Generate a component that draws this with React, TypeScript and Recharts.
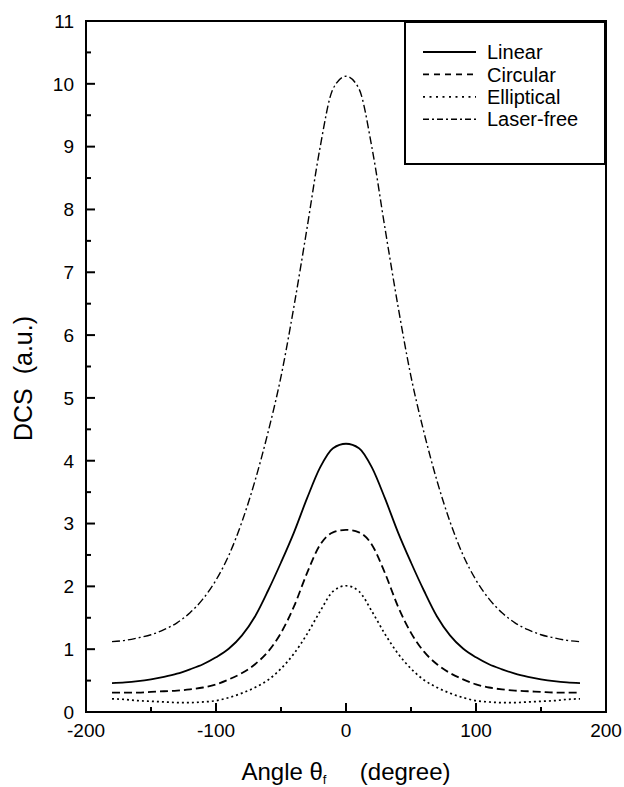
import React from 'react';
import { LineChart, Line, XAxis, YAxis, Legend, ReferenceArea, Label } from 'recharts';

// scattering angle, degrees
const angles = [
  -180, -170, -160, -150, -140, -130, -120, -110, -100, -90, -80, -70, -60, -50, -40, -30, -20, -10,
  0, 10, 20, 30, 40, 50, 60, 70, 80, 90, 100, 110, 120, 130, 140, 150, 160, 170, 180,
];

const linear = [
  0.46, 0.47, 0.49, 0.52, 0.56, 0.61, 0.68, 0.76, 0.87, 1.01, 1.22, 1.52, 1.93, 2.38, 2.86, 3.4, 3.89, 4.2,
  4.27, 4.2, 3.89, 3.4, 2.86, 2.38, 1.93, 1.52, 1.22, 1.01, 0.87, 0.76, 0.68, 0.61, 0.56, 0.52, 0.49, 0.47, 0.46,
];

const circular = [
  0.31, 0.31, 0.31, 0.32, 0.33, 0.34, 0.36, 0.39, 0.44, 0.52, 0.62, 0.76, 0.96, 1.26, 1.68, 2.21, 2.66, 2.86,
  2.9, 2.86, 2.66, 2.21, 1.68, 1.26, 0.96, 0.76, 0.62, 0.52, 0.44, 0.39, 0.36, 0.34, 0.33, 0.32, 0.31, 0.31, 0.31,
];

const elliptical = [
  0.21, 0.2, 0.18, 0.17, 0.16, 0.15, 0.15, 0.16, 0.18, 0.23, 0.3, 0.39, 0.51, 0.69, 0.93, 1.24, 1.6, 1.92,
  2.01, 1.92, 1.6, 1.24, 0.93, 0.69, 0.51, 0.39, 0.3, 0.23, 0.18, 0.16, 0.15, 0.15, 0.16, 0.17, 0.18, 0.2, 0.21,
];

const laserFree = [
  1.12, 1.14, 1.18, 1.23, 1.31, 1.42, 1.58, 1.8, 2.1, 2.5, 3.03, 3.68, 4.45, 5.34, 6.46, 7.7, 8.98, 9.92,
  10.12, 9.92, 8.98, 7.7, 6.46, 5.34, 4.45, 3.68, 3.03, 2.5, 2.1, 1.8, 1.58, 1.42, 1.31, 1.23, 1.18, 1.14, 1.12,
];

const xTicks = [-200, -150, -100, -50, 0, 50, 100, 150, 200];
const yTicks = [0, 0.5, 1, 1.5, 2, 2.5, 3, 3.5, 4, 4.5, 5, 5.5, 6, 6.5, 7, 7.5, 8, 8.5, 9, 9.5, 10, 10.5, 11];

const seriesInfo = [
  { key: 'linear', name: 'Linear', dash: undefined, legendDash: undefined, width: 1.8 },
  { key: 'circular', name: 'Circular', dash: '8 4', legendDash: '6 5', width: 1.8 },
  { key: 'elliptical', name: 'Elliptical', dash: '2 3', legendDash: '2 4.5', width: 1.7 },
  { key: 'laserFree', name: 'Laser-free', dash: '8 3 2 3', legendDash: '6 3 2 3', width: 1.4 },
];

const data = angles.map((angle, i) => ({
  angle,
  linear: linear[i],
  circular: circular[i],
  elliptical: elliptical[i],
  laserFree: laserFree[i],
}));

const FONT = '"Liberation Sans", Arial, Helvetica, sans-serif';

const XTick = (props: any) => {
  const { x, y, payload } = props;
  const major = payload.value % 100 === 0;
  return (
    <g>
      <line x1={x} y1={y} x2={x} y2={y - (major ? 9 : 5)} stroke="#000" strokeWidth={2} />
      {major && (
        <text x={x} y={y + 25} textAnchor="middle" fontSize={19} fontFamily={FONT} fill="#000">
          {payload.value}
        </text>
      )}
    </g>
  );
};

const YTick = (props: any) => {
  const { x, y, payload } = props;
  const major = Number.isInteger(payload.value);
  return (
    <g>
      <line x1={x} y1={y} x2={x + (major ? 9 : 5)} y2={y} stroke="#000" strokeWidth={2} />
      {major && (
        <text x={x - 12} y={y} dy="0.36em" textAnchor="end" fontSize={19} fontFamily={FONT} fill="#000">
          {payload.value}
        </text>
      )}
    </g>
  );
};

const XTitle = (props: any) => {
  const { viewBox } = props;
  const cx = viewBox.x + viewBox.width / 2;
  return (
    <text
      x={cx}
      y={viewBox.y + 68}
      textAnchor="middle"
      fontSize={24}
      fontFamily={FONT}
      fill="#000"
      style={{ whiteSpace: 'pre' }}
    >
      Angle θ
      <tspan fontSize={13} dy={4}>f</tspan>
      <tspan dy={-4}>{'     (degree)'}</tspan>
    </text>
  );
};

const YTitle = (props: any) => {
  const { viewBox } = props;
  const cy = viewBox.y + viewBox.height / 2 + 12;
  return (
    <text
      transform={`translate(${viewBox.x + 32},${cy}) rotate(-90)`}
      textAnchor="middle"
      fontSize={25}
      fontFamily={FONT}
      fill="#000"
      style={{ whiteSpace: 'pre' }}
    >
      {'DCS  (a.u.)'}
    </text>
  );
};

const LegendBox = () => (
  <svg width={202} height={144} style={{ display: 'block' }}>
    <rect x={1} y={1} width={200} height={142} fill="#fff" stroke="#000" strokeWidth={2} />
    {seriesInfo.map((s, i) => (
      <g key={s.key}>
        <line
          x1={19}
          x2={72}
          y1={31 + i * 22.4}
          y2={31 + i * 22.4}
          stroke="#000"
          strokeWidth={s.width}
          strokeDasharray={s.legendDash}
        />
        <text x={83} y={31 + i * 22.4} dy="0.36em" fontSize={20} fontFamily={FONT} fill="#000">
          {s.name}
        </text>
      </g>
    ))}
  </svg>
);

export default function App() {
  return (
    <div style={{ background: '#fff' }}>
      <style>{'html, body { margin: 0; padding: 0; }'}</style>
      <LineChart width={624} height={787} data={data} margin={{ top: 21, right: 18, bottom: 0, left: 0 }}>
        <XAxis
          dataKey="angle"
          type="number"
          domain={[-200, 200]}
          ticks={xTicks}
          interval={0}
          height={75}
          axisLine={false}
          tickLine={false}
          tickSize={0}
          tickMargin={0}
          tick={<XTick />}
        >
          <Label content={<XTitle />} />
        </XAxis>
        <YAxis
          type="number"
          domain={[0, 11]}
          ticks={yTicks}
          interval={0}
          width={86}
          axisLine={false}
          tickLine={false}
          tickSize={0}
          tickMargin={0}
          tick={<YTick />}
        >
          <Label content={<YTitle />} />
        </YAxis>
        <ReferenceArea x1={-200} x2={200} y1={0} y2={11} fill="none" stroke="#000" strokeWidth={2} />
        {seriesInfo.map((s) => (
          <Line
            key={s.key}
            type="monotone"
            dataKey={s.key}
            name={s.name}
            stroke="#000"
            strokeWidth={s.width}
            strokeDasharray={s.dash}
            dot={false}
            activeDot={false}
            isAnimationActive={false}
          />
        ))}
        <Legend
          layout="vertical"
          align="center"
          verticalAlign="middle"
          wrapperStyle={{ position: 'absolute', left: 404, top: 21, width: 202, height: 144, margin: 0, padding: 0 }}
          content={() => <LegendBox />}
        />
      </LineChart>
    </div>
  );
}
